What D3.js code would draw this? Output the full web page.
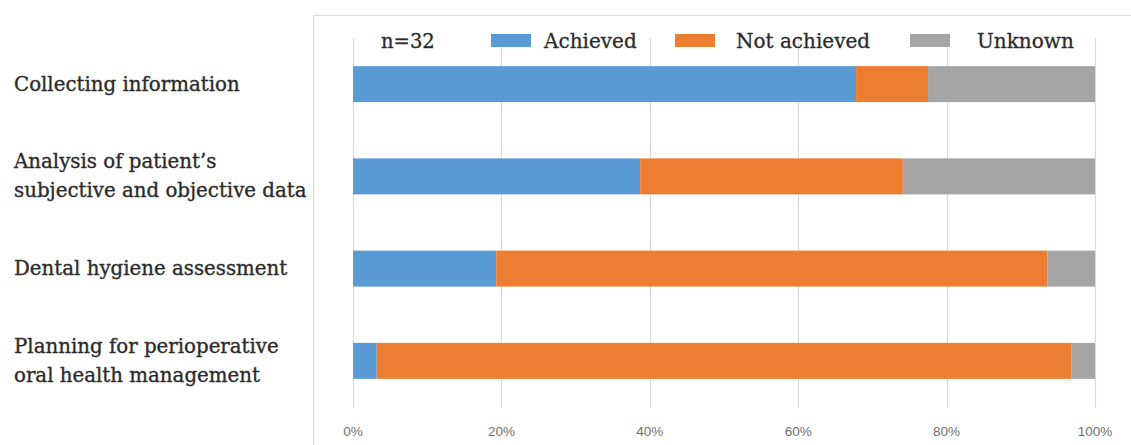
<!DOCTYPE html>
<html>
<head>
<meta charset="utf-8">
<script src="https://cdn.jsdelivr.net/npm/d3@7"></script>
<style>
  body { margin: 0; background: #fff; }
  svg { display: block; }
</style>
</head>
<body>
<div id="chart"></div>
<script>
const categories = [
  ['Collecting information'],
  ['Analysis of patient\u2019s', 'subjective and objective data'],
  ['Dental hygiene assessment'],
  ['Planning for perioperative', 'oral health management']
];
const seriesNames = ['Achieved', 'Not achieved', 'Unknown'];
const achieved = [67.8, 38.7, 19.3, 3.2];
const notAchieved = [9.7, 35.4, 74.3, 93.6];
const unknown = [22.5, 25.9, 6.4, 3.2];
const tickValues = [0, 0.2, 0.4, 0.6, 0.8, 1];
const colors = ['#5b9bd5', '#ed7d31', '#a5a5a5'];

const width = 1131;
const height = 445;

const rows = categories.map((c, i) => ({
  key: i,
  Achieved: achieved[i],
  'Not achieved': notAchieved[i],
  Unknown: unknown[i]
}));

const svg = d3.select('#chart').append('svg')
  .attr('width', width)
  .attr('height', height);

// chart area border
svg.append('rect')
  .attr('x', 313.5)
  .attr('y', 15.5)
  .attr('width', 840)
  .attr('height', 460)
  .attr('fill', 'none')
  .attr('stroke', '#d9d9d9');

const x = d3.scaleLinear().domain([0, 1]).range([353, 1095]);
const y = d3.scaleBand()
  .domain(d3.range(categories.length))
  .range([38, 407])
  .paddingInner(0.61)
  .paddingOuter(0.305);

// gridlines
svg.append('g')
  .selectAll('line')
  .data(tickValues)
  .join('line')
  .attr('x1', d => Math.round(x(d)) + 0.5)
  .attr('x2', d => Math.round(x(d)) + 0.5)
  .attr('y1', 38)
  .attr('y2', 408)
  .attr('stroke', '#d9d9d9')
  .attr('stroke-width', 1.2);

// tick labels
svg.append('g')
  .selectAll('text')
  .data(tickValues)
  .join('text')
  .attr('x', d => x(d))
  .attr('y', 431)
  .attr('text-anchor', 'middle')
  .attr('dominant-baseline', 'central')
  .attr('font-family', 'Liberation Sans, sans-serif')
  .attr('font-size', 13.5)
  .attr('fill', '#6f6f6f')
  .text(d3.format('.0%'));

// stacked bars
const stack = d3.stack().keys(seriesNames);
const layers = stack(rows);

svg.append('g')
  .selectAll('g')
  .data(layers)
  .join('g')
  .attr('fill', (d, i) => colors[i])
  .selectAll('rect')
  .data(d => d)
  .join('rect')
  .attr('x', d => x(d[0] / 100))
  .attr('width', d => x(d[1] / 100) - x(d[0] / 100))
  .attr('y', (d, i) => y(i))
  .attr('height', y.bandwidth());

// category labels
const lineH = 29;
const labels = svg.append('g')
  .selectAll('text')
  .data(categories)
  .join('text')
  .attr('font-family', 'DejaVu Serif, serif')
  .attr('font-size', 19.8)
  .attr('fill', '#2b2b2b')
  .attr('stroke', '#2b2b2b')
  .attr('stroke-width', 0.35);

labels.each(function (lines, i) {
  const cy = y(i) + y.bandwidth() / 2;
  const top = cy - (lines.length - 1) * lineH / 2;
  d3.select(this).selectAll('tspan')
    .data(lines)
    .join('tspan')
    .attr('x', 14)
    .attr('y', (d, j) => top + j * lineH)
    .attr('dominant-baseline', 'central')
    .text(d => d);
});

// legend
const legendFont = 'DejaVu Serif, serif';
svg.append('text')
  .attr('x', 381)
  .attr('y', 41)
  .attr('dominant-baseline', 'central')
  .attr('font-family', legendFont)
  .attr('font-size', 19.5)
  .attr('fill', '#2b2b2b')
  .attr('stroke', '#2b2b2b')
  .attr('stroke-width', 0.3)
  .text('n=32');

const legendX = [491, 675, 910];
const legend = svg.append('g')
  .selectAll('g')
  .data(seriesNames)
  .join('g')
  .attr('transform', (d, i) => `translate(${legendX[i]},0)`);

legend.append('rect')
  .attr('x', 0)
  .attr('y', 34)
  .attr('width', 40)
  .attr('height', 13)
  .attr('fill', (d, i) => colors[i]);

legend.append('text')
  .attr('x', (d, i) => i === 0 ? 53 : (i === 1 ? 61 : 67))
  .attr('y', 41)
  .attr('dominant-baseline', 'central')
  .attr('font-family', legendFont)
  .attr('font-size', 20)
  .attr('fill', '#2b2b2b')
  .attr('stroke', '#2b2b2b')
  .attr('stroke-width', 0.3)
  .text(d => d);
</script>
</body>
</html>
